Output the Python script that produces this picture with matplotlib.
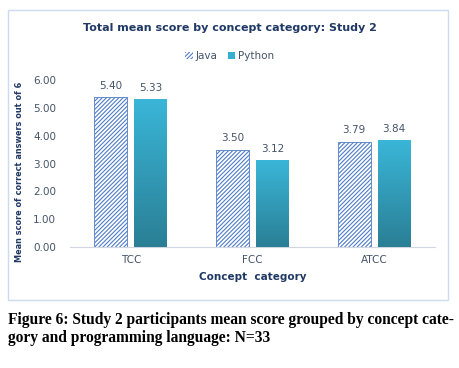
import matplotlib
matplotlib.use("Agg")
import matplotlib.pyplot as plt
import matplotlib.patches as mpatches
from matplotlib.colors import LinearSegmentedColormap
import numpy as np

# data
categories = ["TCC", "FCC", "ATCC"]
java = [5.40, 3.50, 3.79]
python = [5.33, 3.12, 3.84]
yticks = [0, 1, 2, 3, 4, 5, 6]

txt = "#44546A"
navy = "#1F3864"
hatch_col = "#4F7CC9"
plt.rcParams["hatch.linewidth"] = 0.8
plt.rcParams["hatch.color"] = hatch_col

fig = plt.figure(figsize=(4.6, 3.68), dpi=100)

# chart frame
frame = mpatches.Rectangle((8 / 460, 1 - 300 / 368), 440 / 460, 290 / 368,
                           transform=fig.transFigure, fill=False,
                           edgecolor="#CBDCF2", lw=1.0)
fig.patches.append(frame)

ax = fig.add_axes([70 / 460, 1 - 247 / 368, 365 / 460, 167 / 368])
x = np.arange(len(categories))
w = 0.27
off = 0.165

jb = ax.bar(x - off, java, w, facecolor="white", edgecolor=hatch_col,
            hatch="////////", lw=0.6, zorder=2)
pb = ax.bar(x + off, python, w, facecolor="#36B0D2", edgecolor="none", zorder=2)

# vertical gradient on python bars
grad = np.linspace(0, 1, 256).reshape(-1, 1)
cm = LinearSegmentedColormap.from_list("g", ["#2A7F95", "#3AB6D8"])
for b in pb:
    x0, y0 = b.get_x(), b.get_y()
    im = ax.imshow(grad, cmap=cm, origin="lower", aspect="auto",
                   extent=[x0, x0 + b.get_width(), y0, y0 + b.get_height()],
                   zorder=3)
    im.set_clip_path(b)

for bars, vals in [(jb, java), (pb, python)]:
    for b, v in zip(bars, vals):
        ax.text(b.get_x() + b.get_width() / 2, v + 0.22, f"{v:.2f}",
                ha="center", va="bottom", fontsize=7.5, color=txt)

ax.set_xlim(-0.5, 2.5)
ax.set_ylim(0, 6)
ax.set_yticks(yticks)
ax.set_yticklabels([f"{t:.2f}" for t in yticks])
ax.set_xticks(x)
ax.set_xticklabels(categories)
ax.tick_params(length=0, labelsize=7.5, colors=txt, pad=6)
ax.tick_params(axis="y", pad=10)
for s in ["top", "right", "left"]:
    ax.spines[s].set_visible(False)
ax.spines["bottom"].set_color("#D0D7E2")
ax.set_xlabel("Concept  category", fontsize=7.5, fontweight="bold", color=navy,
              labelpad=5)
ax.set_ylabel("Mean score of correct answers out of 6", fontsize=5.9, fontweight="bold",
              color=navy, labelpad=10)
ax.yaxis.set_label_coords(-0.125, 0.45)

fig.text(0.5, 1 - 28 / 368, "Total mean score by concept category: Study 2",
         ha="center", va="center", fontsize=8, fontweight="bold", color=navy)

h1 = mpatches.Patch(facecolor="white", edgecolor=hatch_col, hatch="////////", lw=0)
h2 = mpatches.Patch(facecolor="#36B0D2")
fig.legend([h1, h2], ["Java", "Python"], loc="center",
           bbox_to_anchor=(0.5, 1 - 56 / 368), ncol=2, frameon=False,
           fontsize=7.5, handlelength=0.7, handleheight=0.7, handletextpad=0.3,
           columnspacing=1.0, labelcolor=txt)

fig.text(8 / 460, 1 - 329 / 368,
         "Figure 6: Study 2 participants mean score grouped by concept cate-\n"
         "gory and programming language: N=33",
         ha="left", va="center", fontsize=11.2, fontweight="bold",
         family="Liberation Serif", linespacing=1.25)

fig.savefig("out.png", dpi=100)
